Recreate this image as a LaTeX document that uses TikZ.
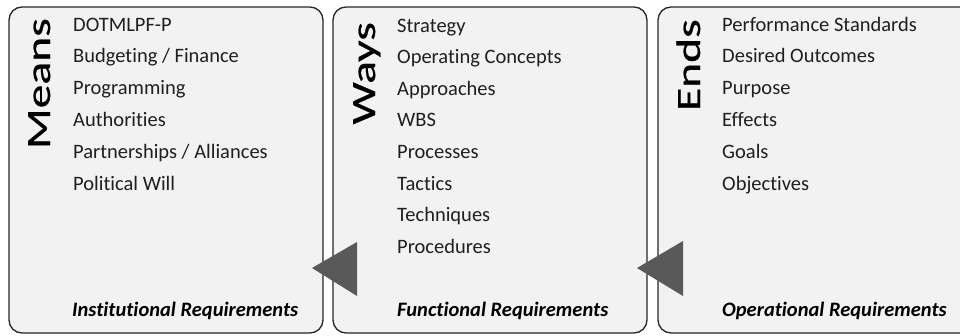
\documentclass[tikz,border=0pt]{standalone}
\usepackage{fontspec}
\setmainfont{Carlito}[Ligatures={NoCommon,NoRequired},RawFeature={-liga;-clig;-calt}]
\newfontfamily\headfont{Carlito}[FakeBold=0.6]
\usepackage{tikz}
\definecolor{boxfill}{HTML}{F2F2F2}
\definecolor{boxline}{HTML}{262626}
\definecolor{tri}{HTML}{595959}
\definecolor{itemtext}{HTML}{1F1F1F}
\tikzset{
  panel/.style={draw=boxline,fill=boxfill,line width=1.3pt,rounded corners=13pt},
  heading/.style={rotate=90,anchor=base east,inner sep=0pt,
    font={\headfont\fontsize{34pt}{40pt}\selectfont}},
  item/.style={anchor=base west,inner sep=0pt,text=itemtext,
    font={\fontsize{20.5pt}{24pt}\selectfont}},
  foot/.style={anchor=base west,inner sep=0pt,
    font={\fontsize{20.5pt}{24pt}\selectfont\bfseries\itshape}}}
\newcommand{\wide}[1]{\scalebox{1.4}[1]{#1}}

\begin{document}
\begin{tikzpicture}[x=1pt,y=-1pt]
\useasboundingbox (0,0) rectangle (960,335);
% panels
\draw [panel] (9,7) rectangle (323,333);
\draw [panel] (333,7) rectangle (647,333);
\draw [panel] (658,7) rectangle (975,333);
% headings
\node [heading] (means) at (50,18) {\wide{Means}};
\node [heading] (ways) at (375,22) {\wide{Ways}};
\node [heading] (ends) at (700,19) {\wide{Ends}};
% lists
\foreach \t [count=\i] in {DOTMLPF-P,Budgeting / Finance,Programming,Authorities,
    Partnerships / Alliances,Political Will}
  \node [item] (means\i) at (73,{31+31.8*(\i-1)}) {\t};
\foreach \t [count=\i] in {Strategy,Operating Concepts,Approaches,WBS,
    Processes,Tactics,Techniques,Procedures}
  \node [item] (ways\i) at (397,{32+31.6*(\i-1)}) {\t};
\foreach \t [count=\i] in {Performance Standards,Desired Outcomes,Purpose,Effects,
    Goals,Objectives}
  \node [item] (ends\i) at (722,{31+31.8*(\i-1)}) {\t};
% footers
\node [foot] (meansfoot) at (72,316) {Institutional Requirements};
\node [foot] (waysfoot) at (397,316) {Functional Requirements};
\node [foot] (endsfoot) at (722,316) {Operational Requirements};
% arrows
\fill [tri] (312,268) -- (357,242) -- (357,296) -- cycle;
\fill [tri] (637,268) -- (683,241) -- (683,296) -- cycle;
\end{tikzpicture}
\end{document}
